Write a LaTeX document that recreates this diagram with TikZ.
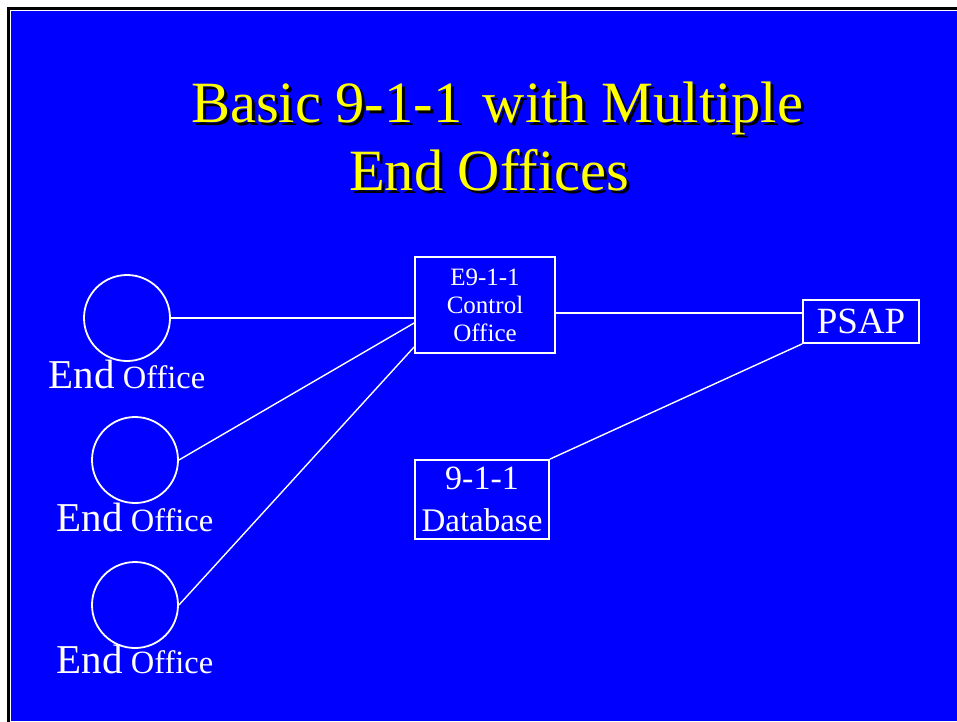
\documentclass[tikz,border=0pt]{standalone}
\usepackage{fontspec}
\setmainfont{Liberation Serif}
\usetikzlibrary{positioning}
\definecolor{slideblue}{RGB}{0,0,255}
\definecolor{titleyellow}{RGB}{255,255,0}
\newcommand{\fs}[2]{\fontsize{#1}{#2}\selectfont}
\newcommand{\eo}[3]{\node[office] (#1) at (#2) {};
  \node[eolabel] (#1l) at (#3) {{\fs{41}{41}End} Office}; }
\newcommand{\ttl}[3]{\node[title,text=black,xshift=3pt,yshift=-3pt] at (#1) {#3};
  \node[title] (#2) at (#1) {#3}; }

\begin{document}
\begin{tikzpicture}[x=1pt,y=-1pt,white,
  office/.style={circle,draw,line width=1.8pt,minimum size=86pt,inner sep=0pt},
  eolabel/.style={anchor=base,inner sep=0pt,font=\fs{32.5}{32.5}},
  box/.style={draw,line width=1.8pt,inner sep=0pt,align=center},
  link/.style={line width=1.4pt},
  title/.style={anchor=base,inner sep=0pt,text=titleyellow,font=\fs{58.5}{69}}]
  \useasboundingbox (0,0) rectangle (957,721);
  % slide background and frame
  \fill[white] (0,0) rectangle (957,721);
  \draw[black,line width=2.5pt] (8.5,725) -- (8.5,8.3) -- (960,8.3);
  \fill[slideblue] (11,10.5) rectangle (957,721);
  % title
  \ttl{497,122}{t1}{Basic 9-1-1\hspace{0.1em} with Multiple}
  \ttl{489,190}{t2}{End Offices}
  % end offices
  \eo{c1}{127,318}{127,388}
  \eo{c2}{135,460}{135,531}
  \eo{c3}{135,605}{135,673}
  % boxes
  \node[box,minimum width=140pt,minimum height=96pt,font=\fs{25}{28}] (ctrl) at (485,305) {E9-1-1\\Control\\Office};
  \node[box,minimum width=134pt,minimum height=79pt,font=\fs{33}{42}] (db) at (482,499.5) {{\fs{34}{42}9-1-1}\\Database};
  \node[box,minimum width=116pt,minimum height=43pt,font=\fs{37}{37}] (psap) at (861,321.5) {PSAP};
  % trunks
  \draw[link] (c1.east) -- (c1.east -| ctrl.west);
  \draw[link] (c2.east) -- ([yshift=-18pt]ctrl.west);
  \draw[link] (c3.east) -- ([yshift=-42pt]ctrl.west);
  \draw[link] ([yshift=-8pt]ctrl.east) -- ([yshift=-8pt]ctrl.east -| psap.west);
  \draw[link] (db.north east) -- (psap.south west);
\end{tikzpicture}
\end{document}
